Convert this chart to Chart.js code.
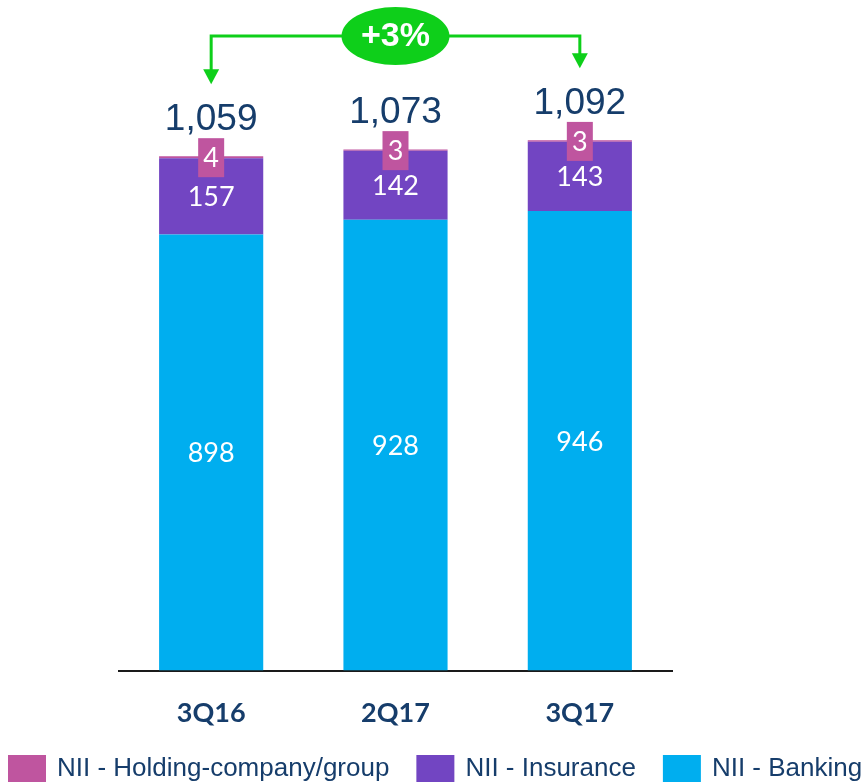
<!DOCTYPE html>
<html>
<head>
<meta charset="utf-8">
<script src="https://cdn.jsdelivr.net/npm/chart.js@4"></script>
<style>
    body { margin: 0; background: #fff; }
    #wrap { width: 865px; height: 784px; position: relative; }
</style>
</head>
<body>
<div id="wrap"><canvas id="niiChart"></canvas></div>
<script>
const quarters = ["3Q16", "2Q17", "3Q17"];
const banking = [898, 928, 946];
const insurance = [157, 142, 143];
const holding = [4, 3, 3];
const totals = [1059, 1073, 1092];
const growthLabel = "+3%";
const seriesNames = ["NII - Banking", "NII - Insurance", "NII - Holding-company/group"];

const navy = "#163d6b";
const colors = ["#00aeef", "#7245c2", "#bf559f"];
const green = "#0ecf1a";

const fmt = (v) => v.toLocaleString("en-US");

// labels, totals, growth bracket and legend
const overlay = {
    id: "overlay",
    afterDatasetsDraw(chart) {
        const { ctx } = chart;
        const x = chart.scales.x;
        const y = chart.scales.y;
        ctx.save();
        ctx.textAlign = "center";
        ctx.textBaseline = "middle";

        // segment values
        ctx.font = "27px Lato";
        ctx.fillStyle = "#fff";
        [0, 1].forEach((d) => {
            chart.getDatasetMeta(d).data.forEach((bar, i) => {
                const cy = (bar.y + bar.base) / 2;
                ctx.fillText(chart.data.datasets[d].data[i], bar.x, cy + 1);
            });
        });

        // holding values in a pink box
        chart.getDatasetMeta(2).data.forEach((bar, i) => {
            const cy = (bar.y + bar.base) / 2;
            ctx.fillStyle = colors[2];
            ctx.fillRect(bar.x - 13, cy - 19, 26, 39);
            ctx.fillStyle = "#fff";
            ctx.fillText(holding[i], bar.x, cy + 1);
        });

        // totals
        ctx.font = "37px 'Liberation Sans'";
        ctx.fillStyle = navy;
        ctx.textBaseline = "alphabetic";
        totals.forEach((t, i) => {
            ctx.fillText(fmt(t), x.getPixelForValue(i), y.getPixelForValue(t) - 26);
        });

        // growth bracket
        const x0 = x.getPixelForValue(0);
        const x2 = x.getPixelForValue(2);
        const lineY = 36;
        const tip0 = y.getPixelForValue(totals[0]) - 72;
        const tip2 = y.getPixelForValue(totals[2]) - 72;
        ctx.strokeStyle = green;
        ctx.fillStyle = green;
        ctx.lineWidth = 3;
        ctx.beginPath();
        ctx.moveTo(x0, tip0 - 14);
        ctx.lineTo(x0, lineY);
        ctx.lineTo(x2, lineY);
        ctx.lineTo(x2, tip2 - 14);
        ctx.stroke();
        [[x0, tip0], [x2, tip2]].forEach(([ax, ay]) => {
            ctx.beginPath();
            ctx.moveTo(ax - 8, ay - 15);
            ctx.lineTo(ax + 8, ay - 15);
            ctx.lineTo(ax, ay);
            ctx.closePath();
            ctx.fill();
        });
        const px = x.getPixelForValue(1);
        ctx.beginPath();
        ctx.ellipse(px, lineY, 54, 29, 0, 0, Math.PI * 2);
        ctx.fill();
        ctx.fillStyle = "#fff";
        ctx.font = "bold 34px 'Liberation Sans'";
        ctx.textBaseline = "middle";
        ctx.fillText(growthLabel, px, lineY + 1);

        // legend (holding, insurance, banking)
        ctx.font = "26px 'Liberation Sans'";
        ctx.textAlign = "left";
        let lx = 8;
        [2, 1, 0].forEach((d) => {
            ctx.fillStyle = colors[d];
            ctx.fillRect(lx, 755, 38, 27);
            ctx.fillStyle = navy;
            ctx.fillText(seriesNames[d], lx + 49, 769);
            lx += 49 + ctx.measureText(seriesNames[d]).width + 27;
        });
        ctx.restore();
    },
};

new Chart(document.getElementById("niiChart"), {
    type: "bar",
    data: {
        labels: quarters,
        datasets: [
            { label: seriesNames[0], data: banking, backgroundColor: colors[0] },
            { label: seriesNames[1], data: insurance, backgroundColor: colors[1] },
            { label: seriesNames[2], data: holding, backgroundColor: colors[2] },
        ],
    },
    options: {
        responsive: true,
        maintainAspectRatio: false,
        animation: false,
        datasets: {
            bar: { categoryPercentage: 1, barPercentage: 0.565 },
        },
        layout: {
            padding: { top: 10, left: 119, right: 193, bottom: 29 },
        },
        scales: {
            x: {
                stacked: true,
                grid: { display: false, drawTicks: false },
                border: { color: "#1a1a1a", width: 2 },
                ticks: {
                    padding: 26,
                    color: navy,
                    font: { family: "Lato", size: 27, weight: "bold" },
                },
            },
            y: {
                stacked: true,
                display: false,
                min: 0,
                max: 1360,
            },
        },
        plugins: {
            legend: { display: false },
            tooltip: { enabled: false },
        },
    },
    plugins: [overlay],
});
</script>
</body>
</html>
